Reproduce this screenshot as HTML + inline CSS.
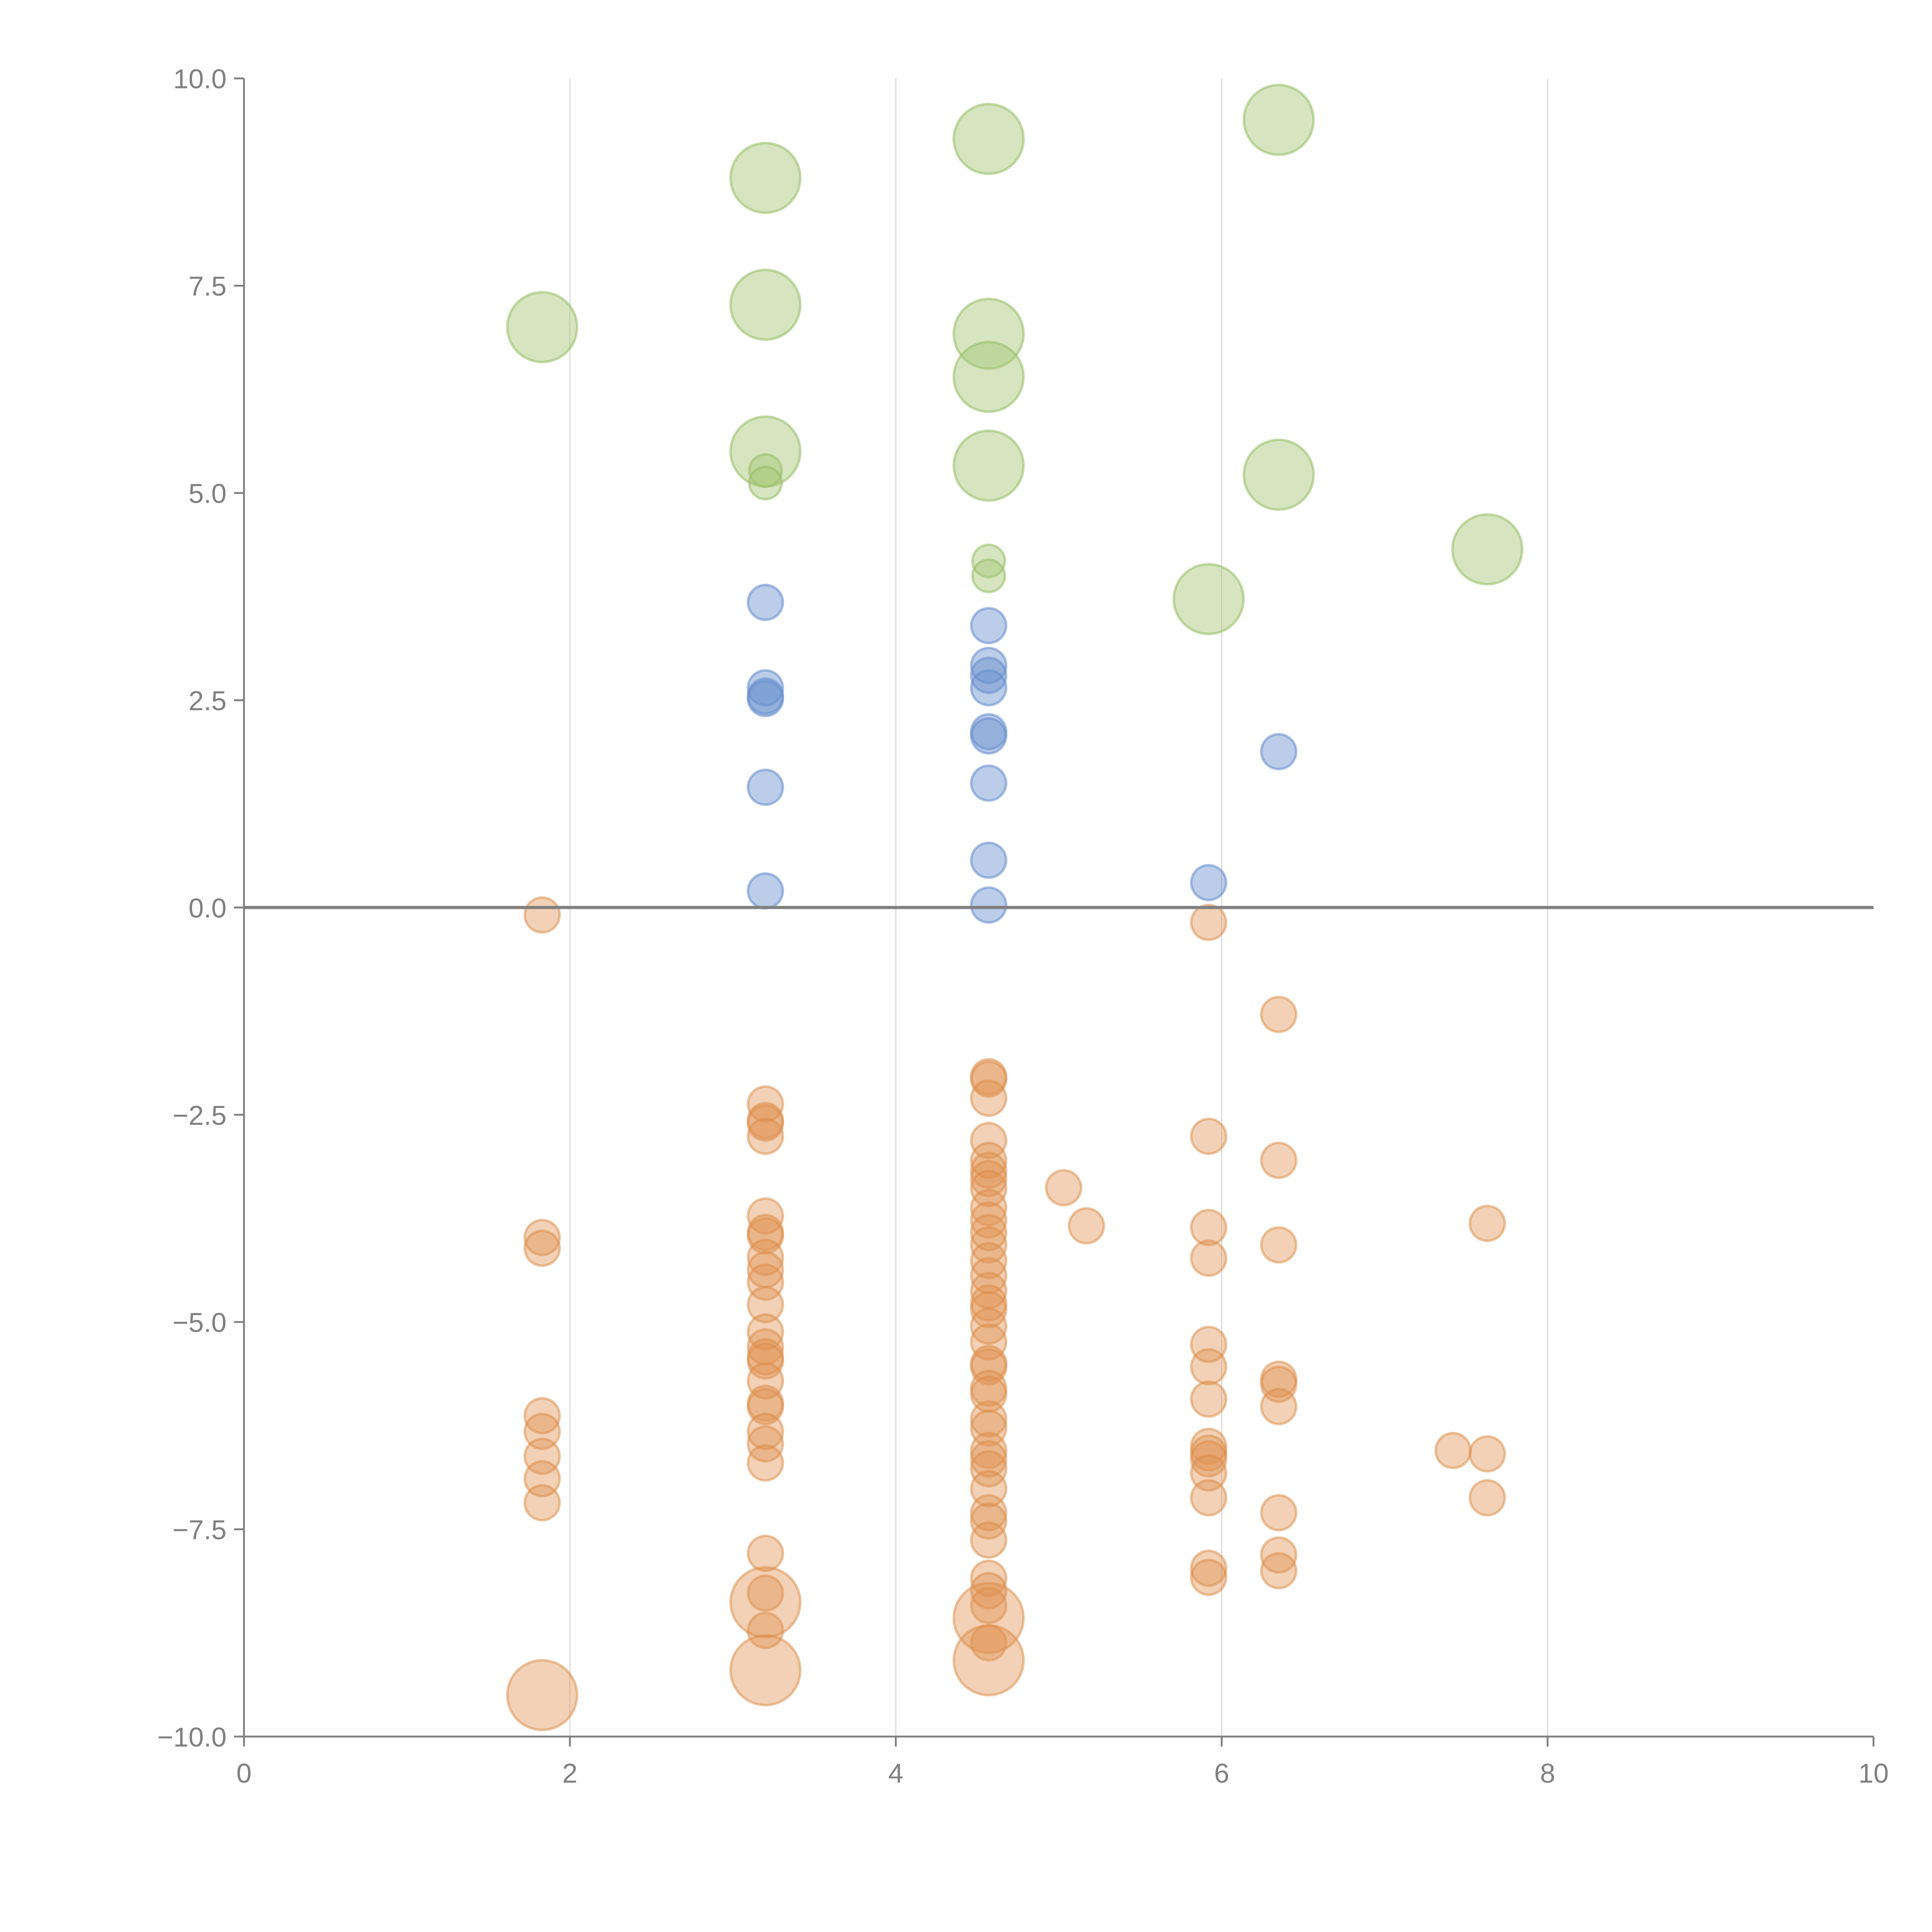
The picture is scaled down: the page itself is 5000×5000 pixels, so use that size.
<!DOCTYPE html>
<html><head><meta charset="utf-8"><style>
html,body{margin:0;padding:0;background:#fff;}
svg{display:block;}
text{font-family:"Liberation Sans",sans-serif;}
</style></head><body>
<svg id="chart" width="5000" height="5000" viewBox="0 0 1552 1552" xmlns="http://www.w3.org/2000/svg">
<g id="grid"></g>
<g id="marks"></g>
<g id="axes"></g>
</svg>
<script>
const xTicks=[0,2,4,6,8,10];
const yTicks=[10,7.5,5,2.5,0,-2.5,-5,-7.5,-10];
const yTickLabels=["10.0","7.5","5.0","2.5","0.0","\u22122.5","\u22125.0","\u22127.5","\u221210.0"];
const greenBigX=[1.83,3.2,3.2,3.2,4.57,4.57,4.57,4.57,6.35,6.35,7.63,5.92];
const greenBigY=[7.0,8.8,7.27,5.5,9.27,6.92,6.4,5.33,9.5,5.22,4.32,3.72];
const greenSmallX=[3.2,3.2,4.57,4.57];
const greenSmallY=[5.27,5.12,4.18,4.0];
const blueX=[3.2,3.2,3.2,3.2,3.2,3.2,4.57,4.57,4.57,4.57,4.57,4.57,4.57,4.57,4.57,5.92,6.35];
const blueY=[3.68,2.65,2.55,2.52,1.45,0.2,3.4,2.92,2.8,2.65,2.12,2.07,1.5,0.57,0.03,0.3,1.88];
const orangeX=[
1.83,1.83,1.83,1.83,1.83,1.83,1.83,1.83,
3.2,3.2,3.2,3.2, 3.2,3.2,3.2,3.2, 3.2,3.2,3.2,3.2, 3.2,3.2,3.2,3.2, 3.2,3.2,3.2,3.2, 3.2,3.2,3.2,3.2,
4.57,4.57,4.57,4.57, 4.57,4.57,4.57,4.57, 4.57,4.57,4.57,4.57, 4.57,4.57,4.57,4.57, 4.57,4.57,4.57,4.57, 4.57,4.57,4.57,4.57, 4.57,4.57,4.57,4.57, 4.57,4.57,4.57,4.57, 4.57,4.57,4.57,4.57,
5.03,5.17,
5.92,5.92,5.92,5.92, 5.92,5.92,5.92,5.92, 5.92,5.92,5.92,5.92, 5.92,5.92,
6.35,6.35,6.35,6.35, 6.35,6.35,6.35,6.35, 6.35,
7.63,7.63,7.63,7.42];
const orangeY=[
-0.09,-3.98,-4.11,-6.13,-6.32,-6.62,-6.89,-7.18,
-2.37,-2.57,-2.6,-2.76, -3.72,-3.92,-3.96,-4.22, -4.37,-4.52,-4.79,-5.12, -5.3,-5.42,-5.47,-5.71, -5.98,-6.02,-6.32,-6.47, -6.7,-7.79,-8.27,-8.72,
-2.04,-2.07,-2.3,-2.81, -3.05,-3.17,-3.27,-3.39, -3.62,-3.77,-3.92,-4.07, -4.26,-4.44,-4.62,-4.77, -4.85,-5.05,-5.24,-5.5, -5.54,-5.8,-5.87,-6.17, -6.28,-6.55,-6.65,-6.77, -7.01,-7.3,-7.4,-7.63, -8.09,-8.24,-8.42,-8.87,
-3.38,-3.84,
-0.18,-2.76,-3.86,-4.23, -5.27,-5.54,-5.93,-6.5, -6.58,-6.65,-6.82,-7.12, -7.97,-8.08,
-1.29,-3.05,-4.07,-5.69, -5.75,-6.02,-7.3,-7.81, -8.0,
-3.81,-6.59,-7.12,-6.55];
const orangeBigX=[3.2,3.2,4.57,4.57,1.83];
const orangeBigY=[-8.38,-9.2,-8.57,-9.08,-9.5];

const NS="http://www.w3.org/2000/svg";
const X0=196,X1=1505,Y0=1395,Y1=63;
function sx(v){return X0+(v-0)/(10-0)*(X1-X0);}
function sy(v){return Y0-(v+10)/20*(Y0-Y1);}
function mk(tag,attrs,parent){const e=document.createElementNS(NS,tag);for(const k in attrs)e.setAttribute(k,attrs[k]);parent.appendChild(e);return e;}
const grid=document.getElementById('grid'),marks=document.getElementById('marks'),axes=document.getElementById('axes');

xTicks.forEach(t=>{if(t>0&&t<10){const l=mk('line',{x1:sx(t),x2:sx(t),y1:Y1,y2:Y0,stroke:'#dcdcdc','stroke-width':1},grid);

}});

function drawSeries(xs,ys,r,fill,stroke,name){
  const n=Math.min(xs.length,ys.length);
  for(let i=0;i<n;i++){
    const c=mk('circle',{cx:sx(xs[i]),cy:sy(ys[i]),r:r,fill:fill,stroke:stroke,'stroke-width':2},marks);
    
    
  }
}
drawSeries(greenBigX,greenBigY,28,'rgba(165,198,115,0.45)','rgba(150,190,100,0.55)','green-bubble-large');
drawSeries(greenSmallX,greenSmallY,13,'rgba(165,198,115,0.45)','rgba(150,190,100,0.55)','green-bubble');
drawSeries(blueX,blueY,14,'rgba(105,145,205,0.45)','rgba(100,140,205,0.55)','blue-bubble');
drawSeries(orangeX,orangeY,14,'rgba(225,145,80,0.42)','rgba(220,140,70,0.5)','orange-bubble');
drawSeries(orangeBigX,orangeBigY,28,'rgba(225,145,80,0.42)','rgba(220,140,70,0.5)','orange-bubble-large');

let a=mk('line',{x1:X0,x2:X0,y1:Y1,y2:Y0,stroke:'#808080','stroke-width':1.5},axes);


a=mk('line',{x1:X0,x2:X1,y1:Y0,y2:Y0,stroke:'#808080','stroke-width':1.5},axes);


a=mk('line',{x1:X0,x2:X1,y1:sy(0),y2:sy(0),stroke:'#808080','stroke-width':2.5},axes);



xTicks.forEach(t=>{
  const l=mk('line',{x1:sx(t),x2:sx(t),y1:Y0,y2:Y0+8,stroke:'#808080','stroke-width':1.5},axes);
  
  
  const tx=mk('text',{x:sx(t),y:Y0+37,'text-anchor':'middle','font-size':22,fill:'#808080'},axes);
  tx.textContent=String(t);
  
  
});
yTicks.forEach((t,i)=>{
  const l=mk('line',{x1:X0-8,x2:X0,y1:sy(t),y2:sy(t),stroke:'#808080','stroke-width':1.5},axes);
  
  
  const tx=mk('text',{x:X0-14,y:sy(t)+8,'text-anchor':'end','font-size':22,fill:'#808080'},axes);
  tx.textContent=yTickLabels[i];
  
  
});
</script>
</body></html>
